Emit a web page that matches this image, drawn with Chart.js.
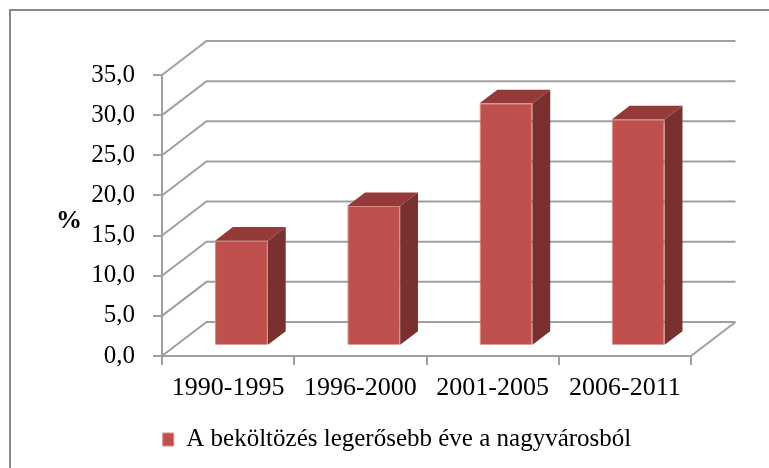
<!DOCTYPE html>
<html>
<head>
<meta charset="utf-8">
<script src="https://cdn.jsdelivr.net/npm/chart.js@4.4.1/dist/chart.umd.min.js"></script>
<style>
  html, body { margin: 0; padding: 0; background: #fff; }
  #wrap { width: 769px; height: 468px; }
</style>
</head>
<body>
<div id="wrap"><canvas id="beköltözésChart" width="769" height="468"></canvas></div>
<script>
// data
const periods = ['1990-1995', '1996-2000', '2001-2005', '2006-2011'];
const shares = [13.1, 17.4, 30.2, 28.2];
const seriesName = 'A beköltözés legerősebb éve a nagyvárosból';
const yMin = 0, yMax = 35, yStep = 5;
const yTitle = '%';

// 3D look (Excel style box): depth of the walls and where the bars sit inside
const DEPTH_X = 44.5;
const DEPTH_Y = -34;
const BAR_FRONT = 0.3;   // front face of bars, fraction of depth
const BAR_DEPTH = 0.4;   // thickness of bars, fraction of depth
const GRID = '#a0a0a0';
const FRONT = '#c0504d';
const SIDE = '#7a302e';
const TOP = '#943b39';
const serif = "'Liberation Serif', 'Times New Roman', serif";

const box3d = {
  id: 'box3d',
  beforeDraw(chart) {
    const ctx = chart.ctx;
    ctx.save();
    ctx.strokeStyle = '#888888';
    ctx.lineWidth = 2;
    ctx.beginPath();
    ctx.moveTo(10, chart.height);
    ctx.lineTo(10, 10);
    ctx.lineTo(chart.width, 10);
    ctx.stroke();
    ctx.restore();
  },
  beforeDatasetsDraw(chart) {
    const { ctx, chartArea: a, scales: { y } } = chart;
    ctx.save();
    ctx.strokeStyle = GRID;
    ctx.lineWidth = 2;
    y.ticks.forEach(t => {
      const py = y.getPixelForValue(t.value);
      ctx.beginPath();
      ctx.moveTo(a.left, py);
      ctx.lineTo(a.left + DEPTH_X, py + DEPTH_Y);
      ctx.lineTo(a.right + DEPTH_X, py + DEPTH_Y);
      ctx.stroke();
    });
    // right edge of the floor
    const p0 = y.getPixelForValue(yMin);
    ctx.beginPath();
    ctx.moveTo(a.right, p0);
    ctx.lineTo(a.right + DEPTH_X, p0 + DEPTH_Y);
    ctx.stroke();
    ctx.restore();

    // front faces are drawn by chart.js, pushed back into the box
    ctx.save();
    ctx.translate(DEPTH_X * BAR_FRONT, DEPTH_Y * BAR_FRONT);
  },
  afterDatasetsDraw(chart) {
    const ctx = chart.ctx;
    ctx.restore();
    const ox = DEPTH_X * BAR_FRONT, oy = DEPTH_Y * BAR_FRONT;
    const bx = DEPTH_X * BAR_DEPTH, by = DEPTH_Y * BAR_DEPTH;
    ctx.save();
    chart.getDatasetMeta(0).data.forEach(bar => {
      const { x, y, base, width } = bar.getProps(['x', 'y', 'base', 'width'], true);
      const l = x - width / 2 + ox, r = x + width / 2 + ox;
      const t = y + oy, b = base + oy;
      // side
      ctx.fillStyle = SIDE;
      ctx.beginPath();
      ctx.moveTo(r, t);
      ctx.lineTo(r + bx, t + by);
      ctx.lineTo(r + bx, b + by);
      ctx.lineTo(r, b);
      ctx.closePath();
      ctx.fill();
      // top
      ctx.fillStyle = TOP;
      ctx.beginPath();
      ctx.moveTo(l, t);
      ctx.lineTo(l + bx, t + by);
      ctx.lineTo(r + bx, t + by);
      ctx.lineTo(r, t);
      ctx.closePath();
      ctx.fill();
    });
    ctx.restore();
  },
  afterDraw(chart) {
    // the "%" title sits horizontal, so chart.js' rotated title won't do
    const { ctx, scales: { y } } = chart;
    ctx.save();
    ctx.font = "bold 26px " + serif;
    ctx.fillStyle = '#000';
    ctx.textAlign = 'center';
    ctx.textBaseline = 'middle';
    ctx.fillText(yTitle, 69, y.getPixelForValue(16.8));
    ctx.restore();
  }
};

const ctx = document.getElementById('beköltözésChart').getContext('2d');
new Chart(ctx, {
  type: 'bar',
  data: {
    labels: periods,
    datasets: [{
      label: seriesName,
      data: shares,
      backgroundColor: FRONT,
      borderColor: '#d88986',
      borderWidth: 1,
      barPercentage: 0.4,
      categoryPercentage: 1.0
    }]
  },
  options: {
    responsive: false,
    animation: false,
    layout: { padding: { top: 75, left: 25, right: 0, bottom: 6 } },
    plugins: {
      legend: {
        position: 'bottom',
        labels: {
          boxWidth: 11,
          boxHeight: 13,
          padding: 10,
          color: '#000',
          font: { family: serif, size: 25 }
        }
      },
      tooltip: { enabled: false }
    },
    scales: {
      x: {
        grid: { drawOnChartArea: false, drawTicks: true, tickLength: 9, color: GRID, lineWidth: 2 },
        border: { display: true, color: GRID, width: 2 },
        ticks: { color: '#000', padding: 8, font: { family: serif, size: 26 } },
        afterFit(s) { s.height = 61; }
      },
      y: {
        min: yMin,
        max: yMax,
        grid: { drawOnChartArea: false, drawTicks: true, tickLength: 9, color: GRID, lineWidth: 2 },
        border: { display: true, color: GRID, width: 2 },
        ticks: {
          stepSize: yStep,
          color: '#000',
          padding: 18,
          font: { family: serif, size: 25 },
          callback: v => v.toFixed(1).replace('.', ',')
        },
        afterFit(s) { s.width = 137; }
      },
      yR: {
        type: 'linear',
        position: 'right',
        grid: { display: false },
        border: { display: false },
        ticks: { display: false },
        afterFit(s) { s.width = 78; }
      }
    }
  },
  plugins: [box3d]
});
</script>
</body>
</html>
